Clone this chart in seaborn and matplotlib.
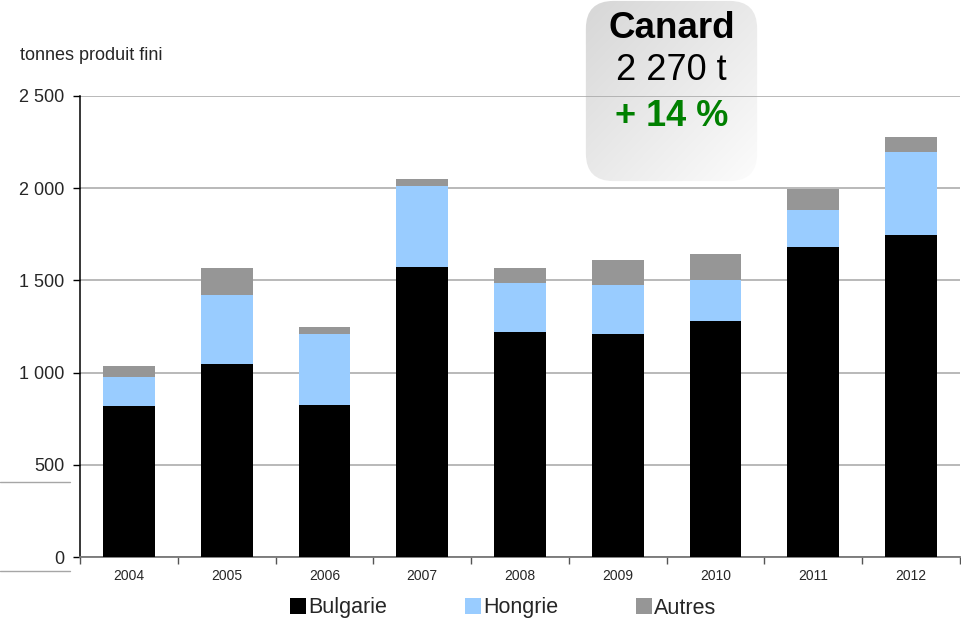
import numpy as np
import matplotlib
matplotlib.use("Agg")
import matplotlib.pyplot as plt
import pandas as pd
import seaborn as sns
from matplotlib import font_manager
from matplotlib.patches import Patch, FancyBboxPatch
from matplotlib.lines import Line2D

# data (tonnes produit fini)
years = ["2004", "2005", "2006", "2007", "2008", "2009", "2010", "2011", "2012"]
bulgarie = [820, 1049, 827, 1574, 1222, 1208, 1278, 1681, 1744]
hongrie = [156, 374, 380, 440, 262, 265, 224, 203, 451]
autres = [58, 145, 40, 38, 85, 137, 141, 111, 83]

yticks = [0, 500, 1000, 1500, 2000, 2500]
ytick_labels = ["0", "500", "1 000", "1 500", "2 000", "2 500"]

box_title = "Canard"
box_value = "2 270 t"
box_change = "+ 14 %"

colors = {"Bulgarie": "#000000", "Hongrie": "#99CCFF", "Autres": "#969696"}

sns.set_theme(style="white")
installed = {f.name for f in font_manager.fontManager.ttflist}
narrow = "Liberation Sans Narrow" if "Liberation Sans Narrow" in installed else "Liberation Sans"
plt.rcParams["font.family"] = ["Liberation Sans", "DejaVu Sans"]

df = pd.DataFrame({"year": years,
                   "Bulgarie": bulgarie,
                   "Hongrie": hongrie,
                   "Autres": autres})
df["l1"] = df["Bulgarie"]
df["l2"] = df["l1"] + df["Hongrie"]
df["l3"] = df["l2"] + df["Autres"]

fig = plt.figure(figsize=(9.61, 6.23), dpi=100)

# rounded gradient box behind the plot
bax = fig.add_axes([585 / 961, 1 - 182 / 623, 173 / 961, 182 / 623], zorder=0)
grad = np.linspace(0, 1, 256)
gx, gy = np.meshgrid(grad, grad)
g = 0.84 + 0.15 * (gx + gy) / 2
rgb = np.dstack([g, g, g])
im = bax.imshow(rgb, extent=[0, 1, 0, 1], origin="upper", aspect="auto")
clip = FancyBboxPatch((0.005, 0.005), 0.99, 0.99, boxstyle="round,pad=0,rounding_size=0.16",
                      transform=bax.transAxes, facecolor="none", edgecolor="none",
                      mutation_aspect=0.95)
bax.add_patch(clip)
im.set_clip_path(clip)
bax.set_xlim(0, 1)
bax.set_ylim(0, 1)
bax.axis("off")
bax.text(0.5, 0.845, box_title, ha="center", va="center", fontsize=26.5, fontweight="bold", color="black")
bax.text(0.5, 0.61, box_value, ha="center", va="center", fontsize=26, color="black")
bax.text(0.5, 0.36, box_change, ha="center", va="center", fontsize=26, fontweight="bold", color="#008000")

ax = fig.add_axes([80 / 961, 1 - 557 / 623, 880 / 961, 461 / 623], zorder=1)
ax.patch.set_alpha(0)

for col, name in [("l3", "Autres"), ("l2", "Hongrie"), ("l1", "Bulgarie")]:
    sns.barplot(data=df, x="year", y=col, color=colors[name], width=0.53,
                saturation=1, ax=ax, zorder=3, linewidth=0)

ax.set_xlim(-0.5, len(years) - 0.5)
ax.set_ylim(0, 2500)
ax.set_yticks(yticks)
ax.set_yticklabels(ytick_labels, fontsize=13)
ax.yaxis.grid(True, color="#A6A6A6", linewidth=1.1, zorder=0)
ax.set_axisbelow(True)
ax.set_xlabel("")
ax.set_ylabel("")

ax.set_xticks(np.arange(len(years)))
ax.set_xticklabels(years, fontsize=10, family=[narrow, "DejaVu Sans"])
ax.set_xticks(np.arange(len(years) + 1) - 0.5, minor=True)
ax.tick_params(axis="x", which="major", length=0, pad=9)
ax.tick_params(axis="x", which="minor", length=5, width=1, color="#555555", direction="out", bottom=True)
ax.tick_params(axis="y", length=5, width=1, color="black", direction="out", left=True, pad=6)

for side in ["top", "right"]:
    ax.spines[side].set_visible(False)
ax.spines["left"].set_color("black")
ax.spines["left"].set_linewidth(1.1)
ax.spines["bottom"].set_color("#777777")
ax.spines["bottom"].set_linewidth(1.3)

fig.text(20 / 961, 1 - 55 / 623, "tonnes produit fini", fontsize=13, va="center", ha="left")

handles = [Patch(facecolor=colors[n], edgecolor="none", label=n) for n in ["Bulgarie", "Hongrie", "Autres"]]
fig.legend(handles=handles, loc="center", bbox_to_anchor=(503 / 961, 1 - 608 / 623), ncol=3,
           frameon=False, handlelength=0.75, handleheight=0.75, handletextpad=0.1,
           columnspacing=3.6, prop={"family": [narrow, "DejaVu Sans"], "size": 15.5})

# stray slide lines at the left edge
fig.add_artist(Line2D([0, 70 / 961], [1 - 482 / 623] * 2, color="#A6A6A6", linewidth=1))
fig.add_artist(Line2D([0, 70 / 961], [1 - 571 / 623] * 2, color="#A6A6A6", linewidth=1))

fig.savefig("out.png", dpi=100)
